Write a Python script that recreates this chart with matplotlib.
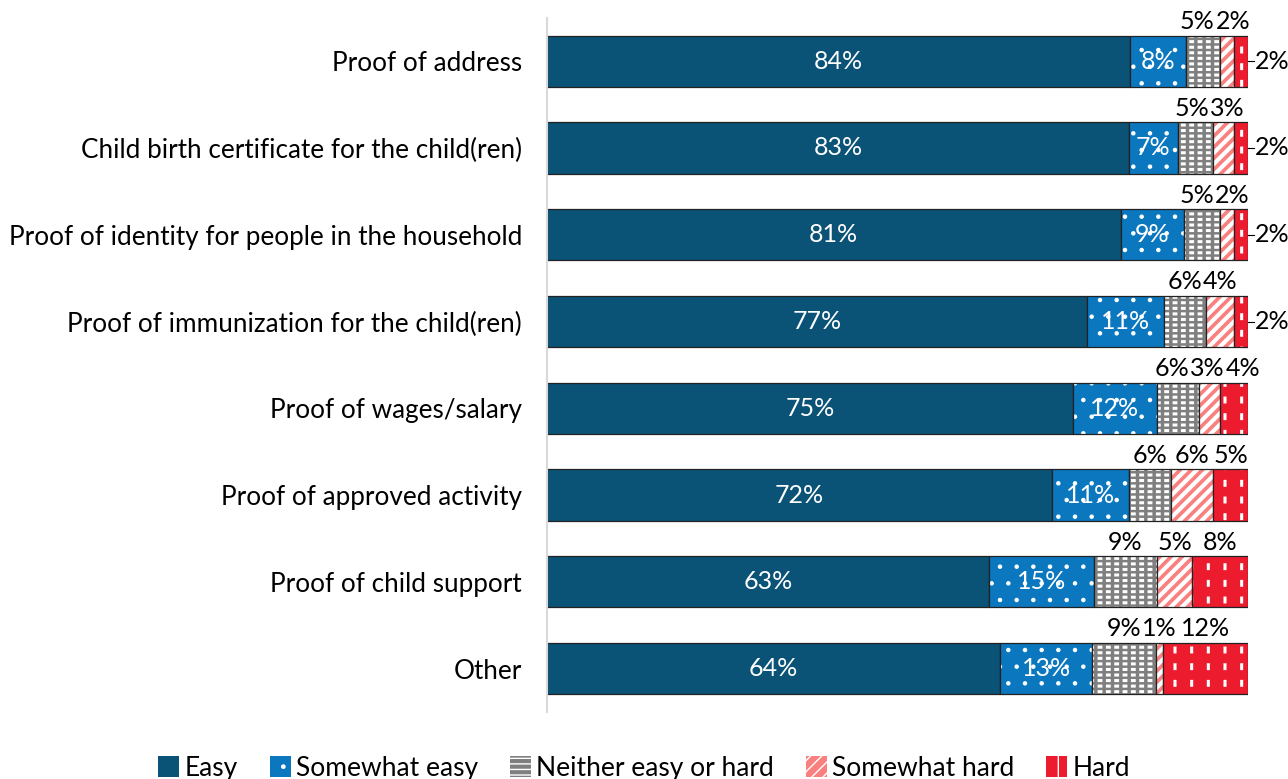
import numpy as np
import matplotlib
matplotlib.use("Agg")
import matplotlib.pyplot as plt
from matplotlib.patches import Patch

plt.rcParams["font.family"] = ["Lato", "DejaVu Sans"]

# ------------------------------------------------------------
# Data (percent of respondents)
# ------------------------------------------------------------
documents = [
    "Proof of address",
    "Child birth certificate for the child(ren)",
    "Proof of identity for people in the household",
    "Proof of immunization for the child(ren)",
    "Proof of wages/salary",
    "Proof of approved activity",
    "Proof of child support",
    "Other",
]
easy = [84, 83, 81, 77, 75, 72, 63, 64]
somewhat_easy = [8, 7, 9, 11, 12, 11, 15, 13]
neither = [5, 5, 5, 6, 6, 6, 9, 9]
somewhat_hard = [2, 3, 2, 4, 3, 6, 5, 1]
hard = [2, 2, 2, 2, 4, 5, 8, 12]

series_names = ["Easy", "Somewhat easy", "Neither easy or hard",
                "Somewhat hard", "Hard"]
series = [easy, somewhat_easy, neither, somewhat_hard, hard]

# fill, hatch, hatch width, breaker hatch, breaker width
# (the breaker is drawn in the fill colour to cut hatch lines into dashes)
styles = [
    ("#0B5277", "", 0, "", 0),
    ("#0A77BF", ".", 0.8, "", 0),
    ("#7F7F7F", "---", 2.2, "||", 2.5),
    ("#FA8080", "///", 3.0, "", 0),
    ("#EC1B2E", "|", 2.2, "-", 7.0),
]


def hatched(ax, y, w, left, h, face, hatch, hlw, breaker, blw):
    if hatch:
        with plt.rc_context({"hatch.linewidth": hlw}):
            bars = ax.barh(y, w, left=left, height=h, color=face, hatch=hatch,
                           edgecolor="white", linewidth=0)
        for b in bars:
            if hasattr(b, "set_hatch_linewidth"):
                b.set_hatch_linewidth(hlw)
    else:
        ax.barh(y, w, left=left, height=h, color=face, linewidth=0)
    if breaker:
        with plt.rc_context({"hatch.linewidth": blw}):
            bars = ax.barh(y, w, left=left, height=h, fill=False,
                           hatch=breaker, edgecolor=face, linewidth=0)
        for b in bars:
            if hasattr(b, "set_hatch_linewidth"):
                b.set_hatch_linewidth(blw)


values = np.array(series, dtype=float)
shares = values / values.sum(axis=0) * 100

fig = plt.figure(figsize=(12.88, 7.79), dpi=100)
ax = fig.add_axes([0.4247, 0.086, 0.5443, 0.8911])

y = np.arange(len(documents))
bar_h = 0.59
left = np.zeros(len(documents))
above = {i: [] for i in range(len(documents))}

for k, (name, vals) in enumerate(zip(series_names, series)):
    face, hatch, hlw, breaker, blw = styles[k]
    w = shares[k]
    hatched(ax, y, w, left, bar_h, face, hatch, hlw, breaker, blw)
    ax.barh(y, w, left=left, height=bar_h, fill=False,
            edgecolor="#222222", linewidth=0.9)

    for i, v in enumerate(vals):
        cx = left[i] + w[i] / 2
        txt = f"{v}%"
        if k < 2:
            ax.text(cx, y[i], txt, ha="center", va="center", color="white",
                    fontsize=18)
        elif k == 4 and v <= 2:
            end = left[i] + w[i]
            ax.plot([end, end + 0.9], [y[i], y[i]], color="black", lw=0.8,
                    clip_on=False)
            ax.text(end + 0.9, y[i], txt, ha="left", va="center",
                    fontsize=18, color="black")
        else:
            t = ax.text(cx, y[i] - bar_h / 2 - 0.03, txt, ha="center",
                        va="bottom", fontsize=18, color="black")
            above[i].append(t)
    left = left + w

ax.set_xlim(0, 100)
ax.set_ylim(len(documents) - 0.5, -0.5)

# spread labels sitting above narrow segments so they don't collide
fig.canvas.draw()
renderer = fig.canvas.get_renderer()
px_per_unit = ax.bbox.width / 100.0
for i, texts in above.items():
    for _ in range(10):
        moved = False
        for a, b in zip(texts[:-1], texts[1:]):
            ea = a.get_window_extent(renderer)
            eb = b.get_window_extent(renderer)
            gap = ea.x1 - eb.x0 + 1
            if gap > 0:
                d = gap / 2 / px_per_unit
                xa, ya = a.get_position()
                xb, yb = b.get_position()
                a.set_position((xa - d, ya))
                b.set_position((xb + d, yb))
                moved = True
        if not moved:
            break

ax.set_yticks(y)
ax.set_yticklabels(documents, fontsize=18.8)
ax.tick_params(axis="y", length=0, pad=18)
ax.set_xticks([])
for side in ["top", "right", "bottom"]:
    ax.spines[side].set_visible(False)
ax.spines["left"].set_color("#D9D9D9")
ax.spines["left"].set_linewidth(1.5)

handles = []
for k, name in enumerate(series_names):
    face, hatch, hlw, breaker, blw = styles[k]
    handles.append(Patch(facecolor=face, edgecolor="white" if hatch else face,
                         hatch=hatch, linewidth=0, label=name))
fig.legend(handles=handles, loc="center", bbox_to_anchor=(0.5, 0.014),
           ncol=5, frameon=False, fontsize=19, handlelength=0.8,
           handleheight=0.8, handletextpad=0.2, columnspacing=1.2)

fig.savefig("out.png", dpi=100)
